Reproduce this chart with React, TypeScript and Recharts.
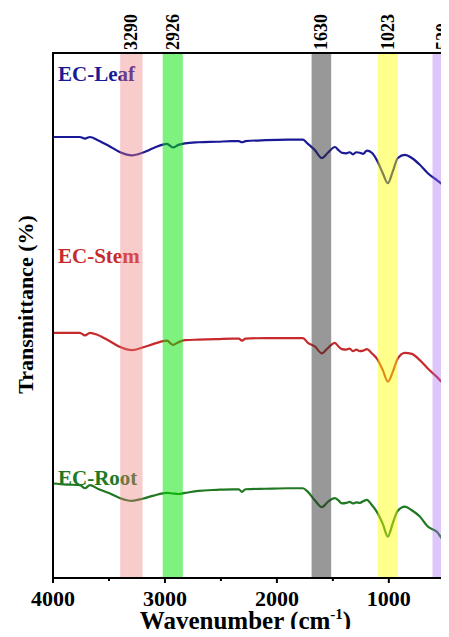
import { LineChart, Line, XAxis, YAxis, ReferenceArea, ReferenceDot } from "recharts";

const SERIF = "'Times New Roman', 'Liberation Serif', serif";

// wavenumber grid (cm-1) shared by the three spectra
const wavenumbers = [
  4000, 3880, 3760, 3714, 3670, 3600, 3500, 3400, 3295, 3200, 3100, 2982, 2929, 2880, 2821, 2700, 2536, 2400,
  2340, 2312, 2280, 2100, 1900, 1768, 1723, 1661, 1598, 1545, 1482, 1450, 1420, 1380, 1350, 1321, 1290, 1259,
  1230, 1196, 1152, 1107, 1054, 1009, 964, 920, 857, 795, 723, 652, 571, 505, 485, 470, 440, 400,
];

// transmittance (offset, arbitrary units)
const leafT = [
  84.0, 84.0, 84.0, 83.7, 84.0, 83.4, 82.3, 81.1, 80.5, 81.0, 81.9, 82.7, 82.0, 82.5, 82.8, 83.0, 83.1, 83.2,
  83.2, 83.0, 83.2, 83.4, 83.5, 83.5, 82.7, 81.5, 80.0, 81.0, 82.1, 81.5, 81.0, 80.9, 81.1, 80.7, 81.1, 81.0,
  80.8, 81.4, 81.0, 79.6, 77.1, 75.2, 77.5, 80.0, 80.6, 80.0, 78.7, 77.1, 75.8, 74.9, 80.0, 83.5, 84.0, 84.2,
];
const stemT = [
  46.7, 46.7, 46.7, 46.2, 46.7, 46.3, 45.2, 44.0, 43.4, 43.9, 44.6, 45.2, 44.4, 44.9, 45.3, 45.4, 45.5, 45.6,
  45.6, 45.2, 45.6, 45.7, 45.7, 45.7, 44.8, 44.1, 42.8, 43.8, 44.8, 44.1, 43.6, 43.5, 43.7, 43.2, 43.5, 43.2,
  43.3, 43.6, 42.8, 41.8, 39.6, 37.4, 39.3, 41.8, 42.9, 42.7, 41.5, 39.9, 38.3, 37.1, 42.0, 46.0, 46.5, 46.7,
];
const rootT = [
  18.0, 17.8, 17.7, 17.1, 17.7, 17.0, 16.2, 15.2, 14.7, 15.1, 15.7, 16.2, 16.1, 16.0, 16.2, 16.6, 16.8, 16.9,
  16.9, 16.4, 16.9, 17.0, 17.1, 17.1, 16.4, 14.8, 13.5, 14.5, 15.2, 14.8, 14.2, 14.3, 14.5, 14.2, 14.4, 14.3,
  14.6, 14.9, 13.9, 12.6, 10.3, 7.9, 10.5, 12.8, 13.6, 12.9, 11.7, 9.8, 8.8, 7.2, 12.0, 16.8, 17.5, 17.7,
];

const seriesNames = ["EC-Leaf", "EC-Stem", "EC-Root"];
const seriesColors = ["#1a1a96", "#c62a2c", "#217823"];
const nameLevels = [94.7, 60.0, 17.7];

// highlighted absorption bands
const bandLabels = ["3290", "2926", "1630", "1023", "520"];
const bandFrom = [3400, 3020, 1690, 1100, 610];
const bandTo = [3200, 2840, 1515, 920, 430];
const bandColors = [
  "rgba(240,120,120,0.38)",
  "rgba(0,228,0,0.5)",
  "rgba(50,50,50,0.5)",
  "rgba(255,255,0,0.45)",
  "rgba(165,105,240,0.38)",
];

const xTicks = [4000, 3500, 3000, 2500, 2000, 1500, 1000, 500];

const rows = wavenumbers.map((wn, i) => ({ wn, leaf: leafT[i], stem: stemT[i], root: rootT[i] }));
const keys = ["leaf", "stem", "root"];

function WaveTick(props: any) {
  const { x, y, payload } = props;
  const v = payload.value;
  const major = v % 1000 === 0;
  const top = y - 8;
  return (
    <g>
      <line x1={x} x2={x} y1={top} y2={top + (major ? 5 : 3)} stroke="#000" strokeWidth={2} />
      {major && (
        <text x={x} y={top + 28} textAnchor="middle" fontFamily={SERIF} fontWeight="bold" fontSize={22} fill="#000">
          {v}
        </text>
      )}
    </g>
  );
}

function XLabel(props: any) {
  const vb = props.viewBox || { x: 53, y: 578, width: 403, height: 59 };
  return (
    <text
      x={vb.x + vb.width / 2 - 9}
      y={vb.y + 51}
      textAnchor="middle"
      fontFamily={SERIF}
      fontWeight="bold"
      fontSize={25}
      fill="#000"
    >
      <tspan>Wavenumber (cm</tspan>
      <tspan dy={-10} fontSize={15}>-1</tspan>
      <tspan dy={10}>)</tspan>
    </text>
  );
}

function YLabel(props: any) {
  const vb = props.viewBox || { x: 0, y: 53, width: 53, height: 525 };
  const cx = vb.x + 25;
  const cy = vb.y + vb.height / 2 - 11;
  return (
    <text
      transform={`translate(${cx}, ${cy}) rotate(-90)`}
      textAnchor="middle"
      dominantBaseline="central"
      fontFamily={SERIF}
      fontWeight="bold"
      fontSize={22}
      fill="#000"
    >
      Transmittance (%)
    </text>
  );
}

function bandLabel(text: string) {
  return (props: any) => {
    const vb = props.viewBox;
    if (!vb) return null;
    const cx = vb.x + vb.width / 2;
    return (
      <text
        transform={`translate(${cx}, ${vb.y - 3}) rotate(-90)`}
        textAnchor="start"
        dominantBaseline="central"
        fontFamily={SERIF}
        fontWeight="bold"
        fontSize={18}
        fill="#000"
      >
        {text}
      </text>
    );
  };
}

function nameShape(text: string, color: string) {
  return (props: any) => (
    <text x={props.cx + 5} y={props.cy} fontFamily={SERIF} fontWeight="bold" fontSize={21} fill={color}>
      {text}
    </text>
  );
}

export default function App() {
  return (
    <div style={{ margin: -8, width: 449, height: 637, overflow: "hidden", background: "#fff" }}>
      <LineChart width={470} height={637} data={rows} margin={{ top: 53, right: 14, left: 0, bottom: 0 }}>
        <XAxis
          dataKey="wn"
          type="number"
          domain={[400, 4000]}
          reversed
          ticks={xTicks}
          interval={0}
          tick={<WaveTick />}
          tickLine={false}
          axisLine={false}
          height={59}
          label={XLabel}
        />
        <YAxis domain={[0, 100]} tick={false} tickLine={false} axisLine={false} width={53} label={YLabel} />
        {keys.map((k, i) => (
          <Line
            key={k}
            dataKey={k}
            type="monotone"
            stroke={seriesColors[i]}
            strokeWidth={2.2}
            dot={false}
            isAnimationActive={false}
          />
        ))}
        {seriesNames.map((n, i) => (
          <ReferenceDot
            key={n}
            x={4000}
            y={nameLevels[i]}
            r={0}
            zIndex={300}
            shape={nameShape(n, seriesColors[i])}
          />
        ))}
        {bandLabels.map((b, i) => (
          <ReferenceArea
            key={b}
            x1={bandFrom[i]}
            x2={bandTo[i]}
            y1={0}
            y2={100}
            fill={bandColors[i]}
            fillOpacity={1}
            stroke="none"
            zIndex={450}
            label={bandLabel(b)}
          />
        ))}
        <ReferenceArea x1={4000} x2={400} y1={0} y2={100} fill="none" stroke="#000" strokeWidth={2} zIndex={500} />
      </LineChart>
    </div>
  );
}
